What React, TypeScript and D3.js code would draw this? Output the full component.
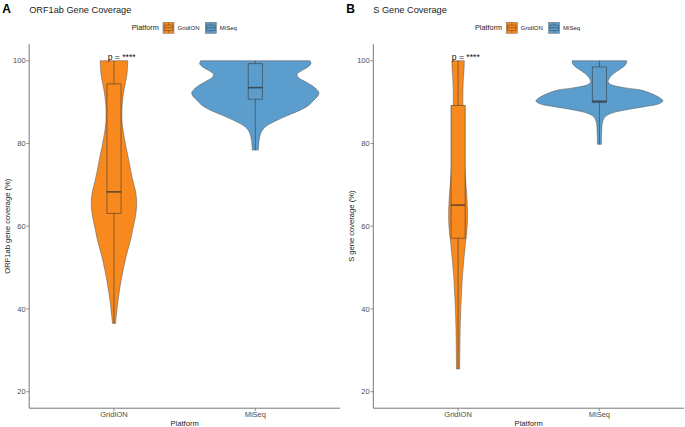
import React from "react";
import * as d3 from "d3";

// ---------- data ----------
const platforms = ["GridION", "MiSeq"];
const yTicks = [20, 40, 60, 80, 100];
const yLimits = [20, 100];

// violin outlines: [coverage %, relative width (% of widest)]
const orfGridIONViolin: [number, number][] = [
  [100, 21.7], [97, 20.6], [95, 18.4], [93, 15.9], [91, 13.9], [89, 12.7], [87, 12.3],
  [85, 12.8], [83, 14.4], [81, 16.6], [79, 19.1], [77, 21.9], [75, 24.4], [73, 26.9],
  [71, 29.7], [69, 33.1], [67, 35.2], [65, 35.6], [63, 34.4], [61, 32.0], [59, 29.1],
  [57, 26.6], [55, 23.1], [53, 19.5], [51, 16.6], [49, 13.8], [47, 11.3], [45, 9.1],
  [43, 7.2], [41, 5.5], [39, 4.1], [37.5, 3.0], [36.5, 2.3],
];
const orfMiSeqViolin: [number, number][] = [
  [100, 85.9], [99.3, 87.5], [98.5, 82.8], [97.5, 71.9], [96.7, 65.6], [95.8, 68.8],
  [95, 78.1], [94, 89.1], [93, 96.9], [92.3, 100], [91.5, 98.4], [90.5, 92.2],
  [89.5, 85.9], [88.5, 76.6], [87.5, 62.5], [86.5, 46.9], [85.5, 32.8], [84.5, 20.3],
  [83.5, 12.5], [82.5, 8.6], [81, 6.3], [80, 5.5], [79, 5.0], [78.4, 4.7],
];
const sGridIONViolin: [number, number][] = [
  [100, 9.8], [98, 9.4], [96, 8.4], [94, 7.8], [92, 7.5], [90, 7.5], [88, 7.8],
  [84, 8.3], [80, 8.8], [76, 9.7], [72, 11.4], [68, 13.4], [64, 14.8], [60, 14.4],
  [56, 11.7], [52, 9.1], [48, 6.9], [44, 5.5], [42, 4.8], [40, 4.2], [35, 3.3],
  [30, 2.8], [25.5, 2.5],
];
const sMiSeqViolin: [number, number][] = [
  [100, 43.0], [99.3, 42.2], [98.5, 37.5], [97.5, 28.1], [96.5, 19.5], [95.5, 14.8],
  [95, 13.8], [94.3, 17.2], [93.5, 39.1], [92.9, 65.6], [92, 82.8], [91, 95.3],
  [90.3, 100], [89.6, 93.8], [89, 75.0], [88.1, 40.6], [87.3, 18.8], [86.5, 9.4],
  [85.5, 5.5], [84, 3.9], [82, 3.4], [79.8, 3.1],
];

// box stats: [min, q1, median, q3, max]
const orfGridIONBox = [36.5, 63.1, 68.3, 94.4, 100];
const orfMiSeqBox = [78.4, 90.7, 93.5, 99.3, 100];
const sGridIONBox = [25.5, 57.1, 65.1, 89.2, 100];
const sMiSeqBox = [79.8, 89.9, 90.2, 98.5, 100];

const colors: Record<string, string> = { GridION: "#F8891F", MiSeq: "#5B9DCC" };

const FONT = "Liberation Sans, Arial, Helvetica, sans-serif";

type PanelProps = {
  left: number;
  right: number;
  letter: string;
  title: string;
  yTitle: string;
  legendX: number;
  violins: Record<string, [number, number][]>;
  boxes: Record<string, number[]>;
};

const TOP = 44.2;
const BOTTOM = 408.2;

function Panel({ left, right, letter, title, yTitle, legendX, violins, boxes }: PanelProps) {
  const exp = (yLimits[1] - yLimits[0]) * 0.05;
  const y = d3.scaleLinear().domain([yLimits[0] - exp, yLimits[1] + exp]).range([BOTTOM, TOP]);
  const x = d3.scalePoint<string>().domain(platforms).range([left, right]).padding(0.6);
  const step = x.step();
  const w = d3.scaleLinear().domain([0, 100]).range([0, step * 0.45]);
  const boxHalf = step * 0.05;

  return (
    <g>
      {/* panel letter & title */}
      <text x={left - 27} y={12.6} fontFamily={FONT} fontWeight="bold" fontSize={12} fill="#000">{letter}</text>
      <text x={left} y={12.7} fontFamily={FONT} fontSize={9.2} fill="#222">{title}</text>

      {/* legend */}
      <text x={legendX} y={30.3} fontFamily={FONT} fontSize={7.3} fill="#222">Platform</text>
      {platforms.map((p, i) => {
        const kx = legendX + 31.3 + i * 42.3;
        const ky = 22.3;
        return (
          <g key={p}>
            <rect x={kx} y={ky} width={11} height={11} fill={colors[p]} stroke="#666" strokeWidth={0.5} />
            <rect x={kx + 1.2} y={ky + 2.8} width={8.6} height={5.4} fill={colors[p]} stroke="#333" strokeOpacity={0.6} strokeWidth={0.7} />
            <line x1={kx + 1.2} x2={kx + 9.8} y1={ky + 5.5} y2={ky + 5.5} stroke="#333" strokeOpacity={0.6} strokeWidth={0.8} />
            <line x1={kx + 5.5} x2={kx + 5.5} y1={ky + 0.5} y2={ky + 2.8} stroke="#333" strokeOpacity={0.6} strokeWidth={0.6} />
            <line x1={kx + 5.5} x2={kx + 5.5} y1={ky + 8.2} y2={ky + 10.5} stroke="#333" strokeOpacity={0.6} strokeWidth={0.6} />
            <text x={kx + 14.5} y={29.9} fontFamily={FONT} fontSize={6} fill="#222">{p}</text>
          </g>
        );
      })}

      {/* violins & boxes */}
      {platforms.map((p) => {
        const cx = x(p)!;
        const area = d3
          .area<[number, number]>()
          .curve(d3.curveCatmullRom)
          .y((d) => y(d[0]))
          .x0((d) => cx - w(d[1]))
          .x1((d) => cx + w(d[1]));
        const [mn, q1, md, q3, mx] = boxes[p];
        return (
          <g key={p}>
            <path d={area(violins[p]) || ""} fill={colors[p]} stroke="#555" strokeOpacity={0.85} strokeWidth={0.6} />
            <line x1={cx} x2={cx} y1={y(q3)} y2={y(mx)} stroke="#333" strokeOpacity={0.6} strokeWidth={0.9} />
            <line x1={cx} x2={cx} y1={y(q1)} y2={y(mn)} stroke="#333" strokeOpacity={0.6} strokeWidth={0.9} />
            <rect x={cx - boxHalf} y={y(q3)} width={boxHalf * 2} height={y(q1) - y(q3)} fill={colors[p]} stroke="#333" strokeOpacity={0.6} strokeWidth={0.9} />
            <line x1={cx - boxHalf} x2={cx + boxHalf} y1={y(md)} y2={y(md)} stroke="#333" strokeOpacity={0.75} strokeWidth={1.6} />
          </g>
        );
      })}

      {/* p-value annotation */}
      <text x={x(platforms[0])! - 6.3} y={59.6} fontFamily={FONT} fontSize={8.6} fill="#111">p = ****</text>

      {/* axes */}
      <line x1={left} x2={left} y1={TOP} y2={BOTTOM} stroke="#777" strokeWidth={1} />
      <line x1={left} x2={right} y1={BOTTOM} y2={BOTTOM} stroke="#777" strokeWidth={1} />
      {yTicks.map((t) => (
        <g key={t}>
          <line x1={left - 2.7} x2={left} y1={y(t)} y2={y(t)} stroke="#777" strokeWidth={0.8} />
          <text x={left - 3.6} y={y(t) + 2.7} textAnchor="end" fontFamily={FONT} fontSize={7.5} fill="#4d4d4d">{t}</text>
        </g>
      ))}
      {platforms.map((p) => (
        <g key={p}>
          <line x1={x(p)!} x2={x(p)!} y1={BOTTOM} y2={BOTTOM + 2.7} stroke="#777" strokeWidth={0.8} />
          <text x={x(p)!} y={416.9} textAnchor="middle" fontFamily={FONT} fontSize={7.5} fill="#4d4d4d">{p}</text>
        </g>
      ))}
      <text x={(left + right) / 2} y={425.6} textAnchor="middle" fontFamily={FONT} fontSize={7.6} fill="#222">Platform</text>
      <text
        transform={`translate(${left - 19.4},${(TOP + BOTTOM) / 2}) rotate(-90)`}
        textAnchor="middle"
        fontFamily={FONT}
        fontSize={7.6}
        fill="#222"
      >
        {yTitle}
      </text>
    </g>
  );
}

export default function App() {
  return (
    <svg
      width={685}
      height={427}
      viewBox="0 0 685 427"
      style={{ position: "absolute", left: 0, top: 0, background: "#fff" }}
    >
      <rect x={0} y={0} width={685} height={427} fill="#fff" />
      <Panel
        left={29.2}
        right={340.1}
        letter="A"
        title="ORF1ab Gene Coverage"
        yTitle="ORF1ab gene coverage (%)"
        legendX={131.7}
        violins={{ GridION: orfGridIONViolin, MiSeq: orfMiSeqViolin }}
        boxes={{ GridION: orfGridIONBox, MiSeq: orfMiSeqBox }}
      />
      <Panel
        left={373.3}
        right={684.2}
        letter="B"
        title="S Gene Coverage"
        yTitle="S gene coverage (%)"
        legendX={475}
        violins={{ GridION: sGridIONViolin, MiSeq: sMiSeqViolin }}
        boxes={{ GridION: sGridIONBox, MiSeq: sMiSeqBox }}
      />
    </svg>
  );
}
